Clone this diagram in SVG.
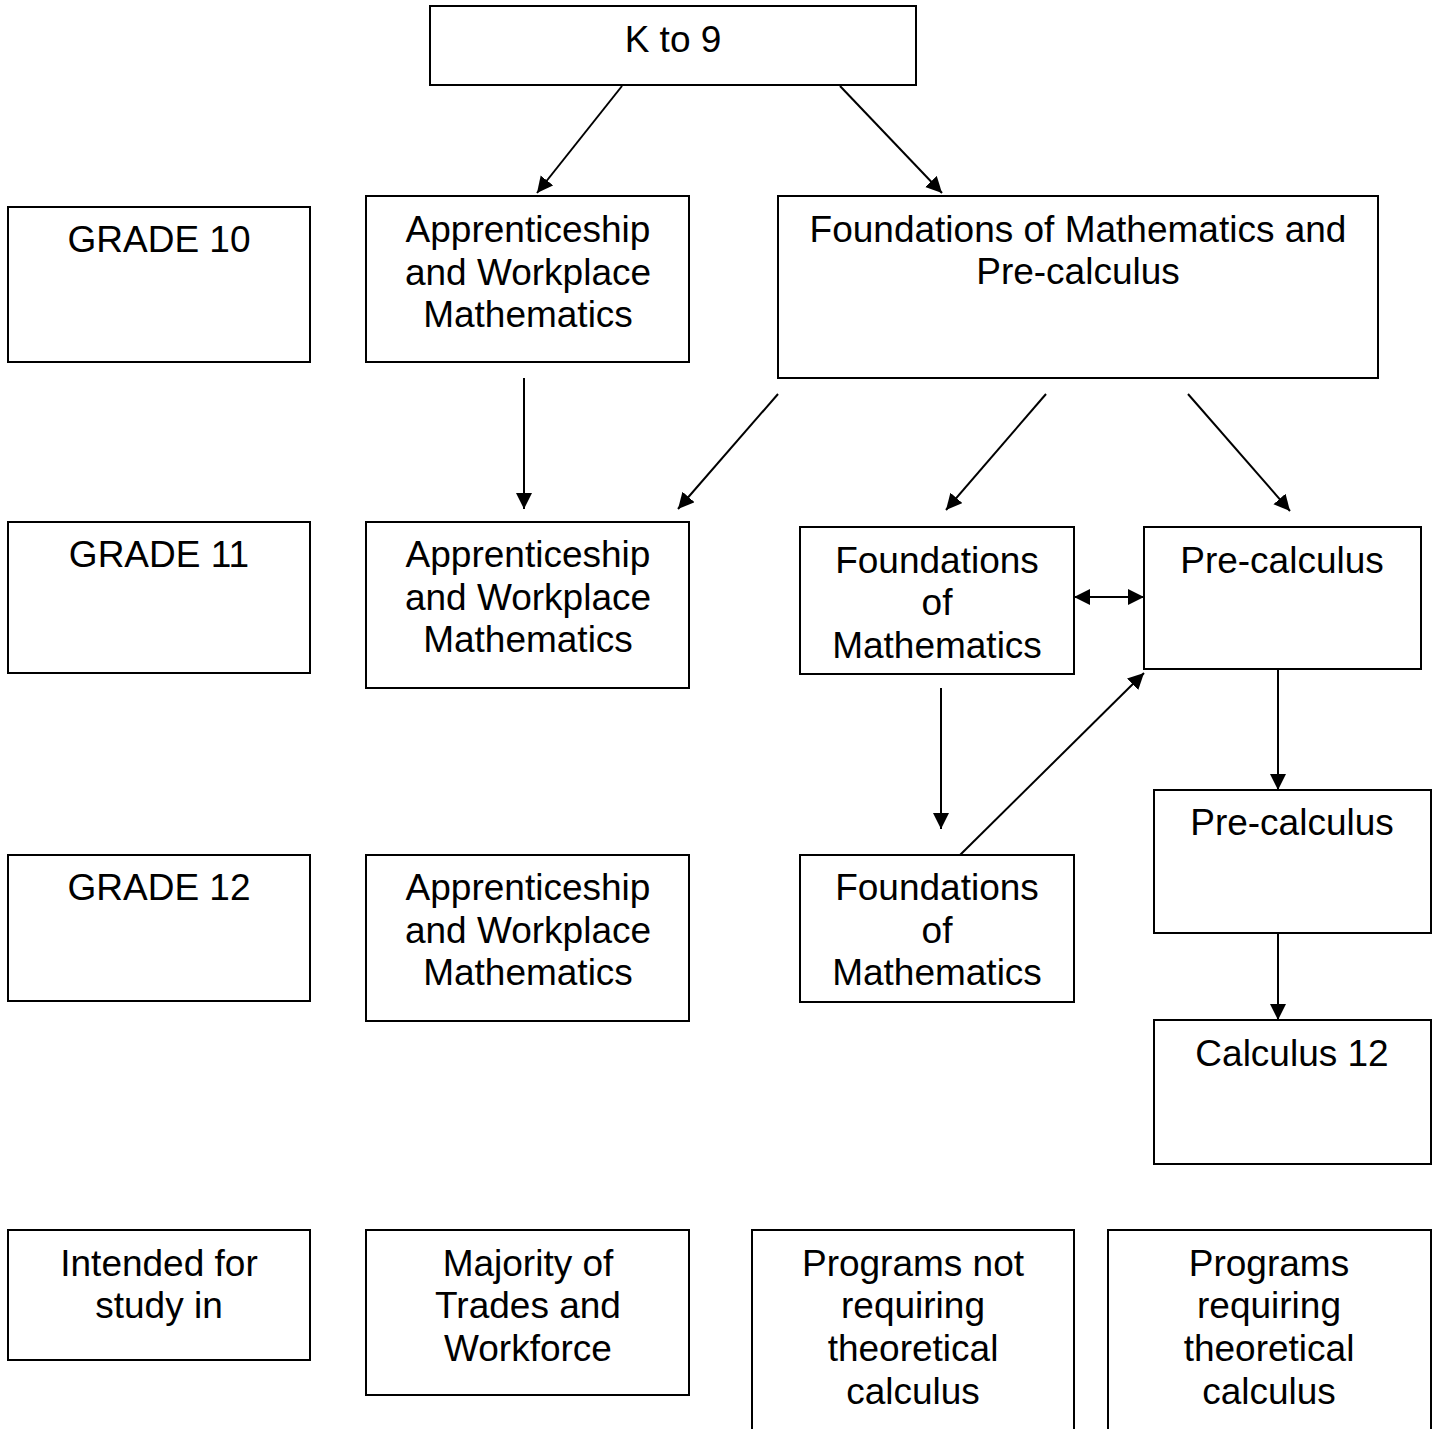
<svg xmlns="http://www.w3.org/2000/svg" width="1441" height="1429" viewBox="0 0 1441 1429">
<style>
rect{fill:#fff;stroke:#000;stroke-width:2}
text{font-family:"Liberation Sans",Arial,sans-serif;font-size:37px;fill:#000;text-anchor:middle}
.c line{stroke:#000;stroke-width:2}
</style>
<defs>
<marker id="ah" markerUnits="userSpaceOnUse" markerWidth="18" markerHeight="18" refX="16" refY="8" orient="auto-start-reverse">
<path d="M0,0 L16,8 L0,16 Z" fill="#000"/>
</marker>
</defs>
<rect width="1441" height="1429" style="stroke:none"/>
<g id="k9"><rect x="430" y="6" width="486" height="79"/><text x="673" y="52">K to 9</text></g>
<g id="g10"><rect x="8" y="207" width="302" height="155"/><text x="159" y="252">GRADE 10</text></g>
<g id="awm10"><rect x="366" y="196" width="323" height="166"/><text x="528" y="242">Apprenticeship</text><text x="528" y="285">and Workplace</text><text x="528" y="327">Mathematics</text></g>
<g id="fmp10"><rect x="778" y="196" width="600" height="182"/><text x="1078" y="242">Foundations of Mathematics and</text><text x="1078" y="284">Pre-calculus</text></g>
<g id="g11"><rect x="8" y="522" width="302" height="151"/><text x="159" y="567">GRADE 11</text></g>
<g id="awm11"><rect x="366" y="522" width="323" height="166"/><text x="528" y="567">Apprenticeship</text><text x="528" y="610">and Workplace</text><text x="528" y="652">Mathematics</text></g>
<g id="fom11"><rect x="800" y="527" width="274" height="147"/><text x="937" y="573">Foundations</text><text x="937" y="615">of</text><text x="937" y="658">Mathematics</text></g>
<g id="pc11"><rect x="1144" y="527" width="277" height="142"/><text x="1282" y="573">Pre-calculus</text></g>
<g id="g12"><rect x="8" y="855" width="302" height="146"/><text x="159" y="900">GRADE 12</text></g>
<g id="awm12"><rect x="366" y="855" width="323" height="166"/><text x="528" y="900">Apprenticeship</text><text x="528" y="943">and Workplace</text><text x="528" y="985">Mathematics</text></g>
<g id="fom12"><rect x="800" y="855" width="274" height="147"/><text x="937" y="900">Foundations</text><text x="937" y="943">of</text><text x="937" y="985">Mathematics</text></g>
<g id="pc12"><rect x="1154" y="790" width="277" height="143"/><text x="1292" y="835">Pre-calculus</text></g>
<g id="calc12"><rect x="1154" y="1020" width="277" height="144"/><text x="1292" y="1066">Calculus 12</text></g>
<g id="intended"><rect x="8" y="1230" width="302" height="130"/><text x="159" y="1276">Intended for</text><text x="159" y="1318">study in</text></g>
<g id="majority"><rect x="366" y="1230" width="323" height="165"/><text x="528" y="1276">Majority of</text><text x="528" y="1318">Trades and</text><text x="528" y="1361">Workforce</text></g>
<g id="notreq"><rect x="752" y="1230" width="322" height="220"/><text x="913" y="1276">Programs not</text><text x="913" y="1318">requiring</text><text x="913" y="1361">theoretical</text><text x="913" y="1404">calculus</text></g>
<g id="req"><rect x="1108" y="1230" width="323" height="220"/><text x="1269" y="1276">Programs</text><text x="1269" y="1318">requiring</text><text x="1269" y="1361">theoretical</text><text x="1269" y="1404">calculus</text></g>
<g class="c" id="connectors">
<line x1="622" y1="86" x2="537" y2="193" marker-end="url(#ah)"/>
<line x1="840" y1="86" x2="942" y2="193" marker-end="url(#ah)"/>
<line x1="524" y1="378" x2="524" y2="509" marker-end="url(#ah)"/>
<line x1="778" y1="394" x2="678" y2="509" marker-end="url(#ah)"/>
<line x1="1046" y1="394" x2="946" y2="510" marker-end="url(#ah)"/>
<line x1="1188" y1="394" x2="1290" y2="511" marker-end="url(#ah)"/>
<line x1="1074" y1="597" x2="1144" y2="597" marker-start="url(#ah)" marker-end="url(#ah)"/>
<line x1="941" y1="688" x2="941" y2="829" marker-end="url(#ah)"/>
<line x1="960" y1="855" x2="1144" y2="673" marker-end="url(#ah)"/>
<line x1="1278" y1="670" x2="1278" y2="790" marker-end="url(#ah)"/>
<line x1="1278" y1="933" x2="1278" y2="1020" marker-end="url(#ah)"/>
</g>
</svg>
